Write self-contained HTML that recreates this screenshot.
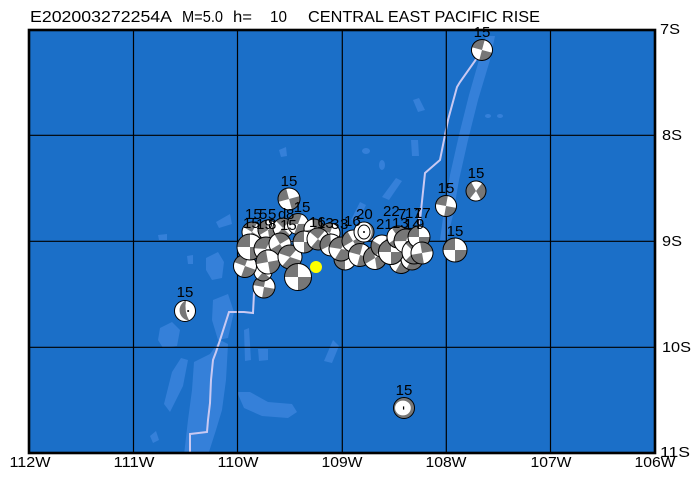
<!DOCTYPE html>
<html><head><meta charset="utf-8"><style>
html,body{margin:0;padding:0;background:#fff;}
svg{display:block;}
text{font-family:"Liberation Sans",Arial,sans-serif;fill:#000;}
</style></head><body>
<svg width="699" height="480" viewBox="0 0 699 480" xmlns="http://www.w3.org/2000/svg">
<defs>
<clipPath id="clip"><rect x="29" y="30" width="626" height="423"/></clipPath>
<g id="ss"><circle r="10" fill="#fff"/><path d="M0 0L10 0A10 10 0 0 1 0 10ZM0 0L-10 0A10 10 0 0 1 0-10Z" fill="#777"/><circle r="10" fill="none" stroke="#000" stroke-width="1" vector-effect="non-scaling-stroke"/></g>
<g id="ss2"><circle r="10" fill="#fff"/><path d="M0 0L10 -2A10 10 0 0 1 -2 10ZM0 0L-10 2A10 10 0 0 1 2 -10Z" fill="#777"/><circle r="10" fill="none" stroke="#000" stroke-width="1" vector-effect="non-scaling-stroke"/></g>
<g id="ss3"><circle r="10" fill="#777"/><path d="M0 0L10 0A10 10 0 0 1 0 10ZM0 0L-10 0A10 10 0 0 1 0-10Z" fill="#fff"/><circle r="10" fill="none" stroke="#000" stroke-width="1" vector-effect="non-scaling-stroke"/></g>
<g id="half"><circle r="10" fill="#fff"/><path d="M1 -10A10 10 0 0 0 4 9.2Q-1 0 1 -10Z" fill="#777"/><circle cx="3" cy="0" r="1" fill="#000"/><circle r="10" fill="none" stroke="#000" stroke-width="1" vector-effect="non-scaling-stroke"/></g>
<g id="th"><circle r="10" fill="#777"/><ellipse cx="-1" cy="0" rx="7.5" ry="7" fill="#fff"/><rect x="-1" y="-1.5" width="1.2" height="3" fill="#000"/><circle r="10" fill="none" stroke="#000" stroke-width="1" vector-effect="non-scaling-stroke"/></g>
<g id="thw"><circle r="10" fill="#fff"/><path d="M3 -9.5A10 10 0 0 1 3 9.5A12 12 0 0 0 3 -9.5Z" fill="#777"/><ellipse cx="0" cy="0" rx="6" ry="7" fill="none" stroke="#000" stroke-width="1" vector-effect="non-scaling-stroke"/><circle r="1" fill="#000"/><circle r="10" fill="none" stroke="#000" stroke-width="1" vector-effect="non-scaling-stroke"/></g>
</defs>

<!-- map background -->
<rect x="29" y="30" width="626" height="423" fill="#1b6fc8"/>
<g clip-path="url(#clip)" fill="#3580d9">
  <path d="M486 36 L495 36 L490 60 L478 100 L468 140 L459 180 L453 215 L447 240 L440 240 L444 210 L450 175 L459 135 L469 95 L479 60 Z"/>
  <path d="M413 100 L419 98 L425 110 L418 112 Z"/>
  <path d="M411 140 L418 140 L419 156 L412 156 Z"/>
  <ellipse cx="366" cy="151" rx="4" ry="3"/>
  <path d="M382 197 L396 178 L402 181 L389 200 Z"/>
  <path d="M351 220 L360 202 L366 205 L358 222 Z"/>
  <ellipse cx="488" cy="116" rx="3" ry="2"/><ellipse cx="500" cy="116" rx="3" ry="2"/>
  <ellipse cx="382" cy="165" rx="3" ry="5"/>
  <path d="M206 258 L218 252 L224 262 L222 278 L212 280 L206 270 Z"/>
  <path d="M213 300 L228 294 L234 312 L228 338 L218 340 L212 320 Z"/>
  <path d="M194 362 L210 354 L220 340 L228 344 L226 380 L222 410 L216 430 L208 455 L184 455 L188 420 L192 390 Z"/>
  <path d="M160 328 L172 322 L180 330 L177 346 L163 348 L158 340 Z"/>
  <path d="M164 404 L172 372 L181 358 L188 360 L183 386 L170 412 Z"/>
  <path d="M237 392 L250 392 L268 402 L292 404 L297 412 L288 418 L262 416 L244 408 Z"/>
  <path d="M244 330 L249 328 L251 360 L245 361 Z"/>
  <path d="M258 349 L268 349 L268 360 L259 361 Z"/>
  <path d="M324 361 L333 340 L339 346 L332 363 Z"/>
  <path d="M158 235 L167 234 L167 240 L159 240 Z"/>
  <path d="M187 256 L193 255 L193 264 L188 264 Z"/>
  <path d="M216 222 L230 214 L232 224 L219 228 Z"/>
  <path d="M150 436 L156 431 L159 440 L153 443 Z"/>
  <path d="M279 150 L286 147 L287 156 L281 157 Z"/>
  <ellipse cx="402" cy="414" rx="3" ry="3"/>
</g>

<!-- ridge line -->
<g clip-path="url(#clip)" fill="none" stroke="#c9c9f2" stroke-width="2">
  <polyline points="190,454 190,434 207,432 208,420 210,403 211,380 213,360 216,352 221,337 229,312 244,312 253,313 254,293 256,288 258,275 260,242 419,238 419,208 420,220 425,173 440,160 445,135 448,120 457,87 460,82 477,58 483,48"/>
</g>

<!-- grid -->
<g stroke="#000" stroke-width="1.2">
  <line x1="133.5" y1="30" x2="133.5" y2="453"/>
  <line x1="237.5" y1="30" x2="237.5" y2="453"/>
  <line x1="342.3" y1="30" x2="342.3" y2="453"/>
  <line x1="446.3" y1="30" x2="446.3" y2="453"/>
  <line x1="550.5" y1="30" x2="550.5" y2="453"/>
  <line x1="29" y1="135.3" x2="655" y2="135.3"/>
  <line x1="29" y1="241.3" x2="655" y2="241.3"/>
  <line x1="29" y1="347.3" x2="655" y2="347.3"/>
</g>

<!-- beachballs: outliers -->
<use href="#ss" transform="translate(482,50) rotate(15) scale(1.05)"/>
<use href="#ss2" transform="translate(476,191) rotate(-40)"/>
<use href="#ss" transform="translate(446,206) rotate(10) scale(1.05)"/>
<use href="#ss" transform="translate(455,250) scale(1.2)"/>
<use href="#half" transform="translate(185,311) scale(1.05)"/>
<use href="#th" transform="translate(404,408) scale(1.05)"/>
<use href="#ss" transform="translate(289,199) rotate(-15) scale(1.1)"/>

<!-- cluster -->
<use href="#ss" transform="translate(252,232) rotate(30) scale(1.0)"/>
<use href="#ss2" transform="translate(268,230) rotate(-20) scale(1.0)"/>
<use href="#ss" transform="translate(283,228) rotate(45) scale(1.0)"/>
<use href="#ss2" transform="translate(298,224) rotate(10) scale(1.05)"/>
<use href="#ss3" transform="translate(314,229) rotate(-10) scale(1.0)"/>
<use href="#ss" transform="translate(330,233) rotate(20) scale(1.0)"/>
<use href="#ss" transform="translate(264,287) rotate(10) scale(1.1)"/>
<use href="#ss" transform="translate(263,272) rotate(40) scale(0.9)"/>
<use href="#ss" transform="translate(245,266) rotate(20) scale(1.15)"/>
<use href="#ss" transform="translate(250,247) scale(1.3)"/>
<use href="#ss2" transform="translate(266,249) rotate(15) scale(1.2)"/>
<use href="#ss3" transform="translate(280,244) rotate(-30) scale(1.1)"/>
<use href="#ss" transform="translate(268,262) rotate(-10) scale(1.2)"/>
<use href="#ss2" transform="translate(290,257) rotate(30) scale(1.2)"/>
<use href="#ss" transform="translate(304,242) scale(1.1)"/>
<use href="#ss" transform="translate(318,239) rotate(40) scale(1.1)"/>
<use href="#ss2" transform="translate(331,245) rotate(-15) scale(1.1)"/>
<use href="#ss" transform="translate(298,277) scale(1.35)"/>
<use href="#ss3" transform="translate(345,259) scale(1.1)"/>
<use href="#ss2" transform="translate(341,249) rotate(20) scale(1.2)"/>
<use href="#ss" transform="translate(353,241) rotate(-30) scale(1.1)"/>
<use href="#ss" transform="translate(360,255) rotate(15) scale(1.15)"/>
<use href="#ss2" transform="translate(375,258) rotate(-20) scale(1.15)"/>
<use href="#ss3" transform="translate(382,246) rotate(30) scale(1.1)"/>
<use href="#ss" transform="translate(401,262) rotate(30) scale(1.15)"/>
<use href="#ss2" transform="translate(412,259) rotate(20) scale(1.1)"/>
<use href="#ss" transform="translate(391,252) scale(1.25)"/>
<use href="#ss3" transform="translate(398,237) rotate(-35) scale(1.1)"/>
<use href="#ss2" transform="translate(406,241) rotate(10) scale(1.2)"/>
<use href="#ss" transform="translate(414,252) rotate(45) scale(1.2)"/>
<use href="#ss" transform="translate(419,237) scale(1.1)"/>
<use href="#ss3" transform="translate(422,253) rotate(-10) scale(1.1)"/>
<use href="#thw" transform="translate(364,232) scale(1.0)"/>

<!-- hypocenter -->
<circle cx="316" cy="267" r="6" fill="#ffff00"/>

<!-- ball labels -->
<g font-size="15">
  <text x="482" y="37" text-anchor="middle">15</text>
  <text x="476" y="178" text-anchor="middle">15</text>
  <text x="446" y="193" text-anchor="middle">15</text>
  <text x="455" y="236" text-anchor="middle">15</text>
  <text x="185" y="297" text-anchor="middle">15</text>
  <text x="404" y="395" text-anchor="middle">15</text>
  <text x="289" y="186" text-anchor="middle">15</text>
  <text x="302" y="212" text-anchor="middle">15</text>
  <text x="245" y="219">15</text>
  <text x="259" y="219">5</text>
  <text x="268" y="219">5</text>
  <text x="278" y="219">d</text>
  <text x="286" y="219">8</text>
  <text x="243" y="228">15</text>
  <text x="256" y="229">19</text>
  <text x="268" y="229">8</text>
  <text x="280" y="230">15</text>
  <text x="309" y="227">16</text>
  <text x="317" y="228">13</text>
  <text x="331" y="229">3</text>
  <text x="340" y="229">3</text>
  <text x="344" y="226">16</text>
  <text x="356" y="219">20</text>
  <text x="383" y="216">22</text>
  <text x="398" y="219">7</text>
  <text x="405" y="218">17</text>
  <text x="414" y="218">17</text>
  <text x="376" y="229">21</text>
  <text x="392" y="228">13</text>
  <text x="404" y="229">14</text>
  <text x="416" y="229">9</text>
</g>

<!-- frame -->
<rect x="29" y="30" width="626" height="423" fill="none" stroke="#000" stroke-width="2.6"/>

<!-- title -->
<g font-size="16">
  <text x="30" y="22" textLength="142" lengthAdjust="spacingAndGlyphs">E202003272254A</text>
  <text x="182" y="22" textLength="41" lengthAdjust="spacingAndGlyphs">M=5.0</text>
  <text x="233" y="22" textLength="19" lengthAdjust="spacingAndGlyphs">h=</text>
  <text x="270" y="22" textLength="17" lengthAdjust="spacingAndGlyphs">10</text>
  <text x="308" y="22" textLength="232" lengthAdjust="spacingAndGlyphs">CENTRAL EAST PACIFIC RISE</text>
</g>

<!-- axis labels -->
<g font-size="15">
  <text x="30" y="467" text-anchor="middle" textLength="41" lengthAdjust="spacingAndGlyphs">112W</text>
  <text x="134" y="467" text-anchor="middle" textLength="41" lengthAdjust="spacingAndGlyphs">111W</text>
  <text x="238" y="467" text-anchor="middle" textLength="41" lengthAdjust="spacingAndGlyphs">110W</text>
  <text x="342" y="467" text-anchor="middle" textLength="41" lengthAdjust="spacingAndGlyphs">109W</text>
  <text x="446" y="467" text-anchor="middle" textLength="41" lengthAdjust="spacingAndGlyphs">108W</text>
  <text x="551" y="467" text-anchor="middle" textLength="41" lengthAdjust="spacingAndGlyphs">107W</text>
  <text x="655" y="467" text-anchor="middle" textLength="41" lengthAdjust="spacingAndGlyphs">106W</text>
  <text x="660" y="34" textLength="20" lengthAdjust="spacingAndGlyphs">7S</text>
  <text x="662" y="140" textLength="20" lengthAdjust="spacingAndGlyphs">8S</text>
  <text x="662" y="246" textLength="20" lengthAdjust="spacingAndGlyphs">9S</text>
  <text x="662" y="352" textLength="29" lengthAdjust="spacingAndGlyphs">10S</text>
  <text x="660" y="457" textLength="30" lengthAdjust="spacingAndGlyphs">11S</text>
</g>
</svg>
</body></html>
